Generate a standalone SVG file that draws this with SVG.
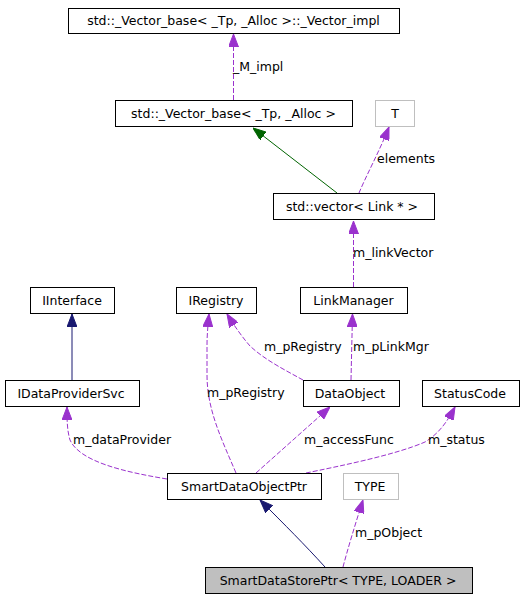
<svg xmlns="http://www.w3.org/2000/svg" width="524" height="600" viewBox="0 0 524 600">
<style>
  .box { fill: #ffffff; stroke: #000000; stroke-width: 1; }
  .gbox { fill: #ffffff; stroke: #bfbfbf; stroke-width: 1; }
  .cur { fill: #bfbfbf; stroke: #000000; stroke-width: 1; }
  text { font-family: "DejaVu Sans", "Liberation Sans", sans-serif; font-size: 12.5px; fill: #000000; }
  .nl { text-anchor: middle; }
  .use { fill: none; stroke: #9a32cd; stroke-width: 1; stroke-dasharray: 5,2; }
  .inh { fill: none; stroke: #191970; stroke-width: 1; }
  .tinh { fill: none; stroke: #006400; stroke-width: 1; }
</style>
<defs>
  <marker id="aU" markerUnits="userSpaceOnUse" markerWidth="13" markerHeight="10" refX="13" refY="5" orient="auto">
    <path d="M0,0 L13,5 L0,10 Z" fill="#9a32cd" stroke="#9a32cd" stroke-width="1"/>
  </marker>
  <marker id="aI" markerUnits="userSpaceOnUse" markerWidth="13" markerHeight="10" refX="13" refY="5" orient="auto">
    <path d="M0,0 L13,5 L0,10 Z" fill="#191970" stroke="#191970" stroke-width="1"/>
  </marker>
  <marker id="aT" markerUnits="userSpaceOnUse" markerWidth="13" markerHeight="10" refX="13" refY="5" orient="auto">
    <path d="M0,0 L13,5 L0,10 Z" fill="#006400" stroke="#006400" stroke-width="1"/>
  </marker>
</defs>

<g id="connectors">
  <path class="use" d="M233.5,100 L233.5,34" marker-end="url(#aU)"/>
  <text x="233" y="71">_M_impl</text>

  <path class="tinh" d="M337,193 L253,128" marker-end="url(#aT)"/>

  <path class="use" d="M359,193 C366,176 380,150 389,127" marker-end="url(#aU)"/>
  <text x="377" y="163">elements</text>

  <path class="use" d="M353.5,287 L353.5,221" marker-end="url(#aU)"/>
  <text x="353" y="257">m_linkVector</text>

  <path class="inh" d="M72,380 L72,314" marker-end="url(#aI)"/>

  <path class="use" d="M236,473 C222,440 207,410 207,375 L207,345 C207,335 208,325 209,314" marker-end="url(#aU)"/>
  <text x="207" y="397">m_pRegistry</text>

  <path class="use" d="M303,380 C285,370 265,360 250,346 C243,338 235,327 227,314" marker-end="url(#aU)"/>
  <text x="264" y="351">m_pRegistry</text>

  <path class="use" d="M351,380 L352.5,314" marker-end="url(#aU)"/>
  <text x="353" y="351">m_pLinkMgr</text>

  <path class="use" d="M167,479 C125,472 80,462 70,440 C67,430 67,420 67,407" marker-end="url(#aU)"/>
  <text x="73" y="444">m_dataProvider</text>

  <path class="use" d="M256,473 L330,407" marker-end="url(#aU)"/>
  <text x="304" y="444">m_accessFunc</text>

  <path class="use" d="M306,473 C340,466 395,455 425,442 C440,433 448,420 455,407" marker-end="url(#aU)"/>
  <text x="428" y="444">m_status</text>

  <path class="inh" d="M325,567 C305,545 285,525 260,500" marker-end="url(#aI)"/>

  <path class="use" d="M343,567 C348,548 355,525 363,500" marker-end="url(#aU)"/>
  <text x="355" y="537">m_pObject</text>
</g>

<g id="node_vector_impl">
  <rect class="box" x="68.5" y="8.5" width="331" height="25"/>
  <text class="nl" x="233.5" y="25">std::_Vector_base&lt; _Tp, _Alloc &gt;::_Vector_impl</text>
</g>
<g id="node_vector_base">
  <rect class="box" x="115.5" y="100.5" width="237" height="26"/>
  <text class="nl" x="233.5" y="117.5">std::_Vector_base&lt; _Tp, _Alloc &gt;</text>
</g>
<g id="node_T">
  <rect class="gbox" x="375.5" y="100.5" width="39" height="26"/>
  <text class="nl" x="395" y="117.5">T</text>
</g>
<g id="node_vector_link">
  <rect class="box" x="273.5" y="193.5" width="161" height="26"/>
  <text class="nl" x="352" y="211">std::vector&lt; Link * &gt;</text>
</g>
<g id="node_IInterface">
  <rect class="box" x="30.5" y="287.5" width="84" height="26"/>
  <text class="nl" x="72" y="304.5">IInterface</text>
</g>
<g id="node_IRegistry">
  <rect class="box" x="176.5" y="287.5" width="80" height="26"/>
  <text class="nl" x="216" y="304.5">IRegistry</text>
</g>
<g id="node_LinkManager">
  <rect class="box" x="300.5" y="287.5" width="107" height="26"/>
  <text class="nl" x="353.5" y="304.5">LinkManager</text>
</g>
<g id="node_IDataProviderSvc">
  <rect class="box" x="5.5" y="380.5" width="134" height="26"/>
  <text class="nl" x="71" y="397.5">IDataProviderSvc</text>
</g>
<g id="node_DataObject">
  <rect class="box" x="303.5" y="380.5" width="96" height="26"/>
  <text class="nl" x="350" y="397.5">DataObject</text>
</g>
<g id="node_StatusCode">
  <rect class="box" x="422.5" y="380.5" width="97" height="26"/>
  <text class="nl" x="470" y="397.5">StatusCode</text>
</g>
<g id="node_SmartDataObjectPtr">
  <rect class="box" x="167.5" y="473.5" width="154" height="26"/>
  <text class="nl" x="244" y="490.5">SmartDataObjectPtr</text>
</g>
<g id="node_TYPE">
  <rect class="gbox" x="343.5" y="473.5" width="55" height="26"/>
  <text class="nl" x="370" y="490.5">TYPE</text>
</g>
<g id="node_SmartDataStorePtr">
  <rect class="cur" x="205.5" y="567.5" width="267" height="26"/>
  <text class="nl" x="338" y="584.5">SmartDataStorePtr&lt; TYPE, LOADER &gt;</text>
</g>
</svg>
